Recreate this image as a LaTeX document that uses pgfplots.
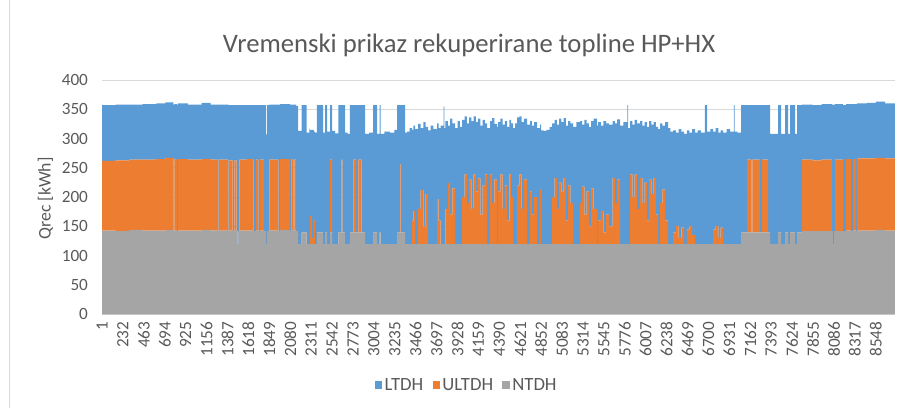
\documentclass[border=0pt]{standalone}
\usepackage{fontspec}
\setmainfont{Carlito}
\usepackage{pgfplots}
\usepackage{pgfplotstable}
\pgfplotsset{compat=1.18}
\definecolor{ltdh}{HTML}{5B9BD5}
\definecolor{ultdh}{HTML}{ED7D31}
\definecolor{ntdh}{HTML}{A5A5A5}
\definecolor{txt}{HTML}{595959}
\definecolor{gridc}{HTML}{D9D9D9}

\pgfplotstableread{
h g o b
1 143 119 95
150 142 121 95
300 144 120 94
450 143 121 95
600 143 122 95
700 144 123 95
790 142 0 216
800 143 121 95
828 142 0 216
838 143 122 95
950 143 121 94
1100 144 121 96
1200 143 121 94
1280 142 0 216
1290 143 121 94
1392 142 0 216
1400 143 120 94
1444 142 0 215
1462 143 120 94
1488 142 0 215
1500 120 0 237
1510 142 0 215
1517 143 121 93
1600 143 122 92
1672 142 0 215
1702 143 121 93
1727 142 0 215
1746 143 121 93
1790 142 0 215
1812 120 0 187
1823 142 0 215
1849 143 121 94
1948 142 0 216
1967 144 121 94
2078 142 0 216
2096 144 120 94
2114 142 0 216
2125 143 121 94
2144 142 0 214
2166 120 0 193
2207 140 0 217
2262 120 0 190
2290 120 0 197
2298 120 48 147
2320 120 10 185
2340 120 40 152
2354 120 0 190
2373 140 0 217
2442 120 0 190
2464 140 0 217
2486 120 0 192
2520 140 124 93
2542 120 0 193
2575 120 0 189
2611 140 0 217
2645 140 124 93
2655 140 0 217
2685 120 0 190
2715 120 0 188
2740 140 0 217
2777 140 124 93
2807 140 0 217
2832 140 124 93
2869 140 0 217
2906 120 0 188
2950 120 0 190
2995 140 0 217
3039 120 0 188
3068 140 0 217
3078 120 0 188
3120 120 0 192
3180 120 0 190
3230 120 0 195
3260 140 0 217
3296 140 116 101
3304 140 0 217
3348 120 0 190
3370 120 0 192
3400 120 0 198
3426 120 40 155
3440 120 56 146
3460 120 0 196
3492 120 60 145
3520 120 92 106
3550 120 30 178
3575 120 85 115
3602 120 0 194
3630 120 0 202
3660 120 0 196
3702 120 77 129
3720 120 40 158
3740 120 0 202
3775 120 0 235
3783 120 0 198
3795 120 60 150
3820 120 104 98
3845 120 50 164
3870 120 95 111
3900 120 0 198
3930 120 0 210
3955 120 0 200
3980 120 80 132
4005 120 119 99
4030 120 70 136
4055 120 110 106
4080 120 60 150
4105 120 119 99
4130 120 90 118
4155 120 112 102
4180 120 50 152
4205 120 100 112
4230 120 119 87
4254 120 0 198
4288 120 119 91
4310 120 70 145
4335 120 110 95
4365 120 0 200
4376 120 90 118
4400 120 119 95
4425 120 60 144
4450 120 100 110
4475 120 40 160
4500 120 119 93
4520 120 80 126
4542 120 0 198
4565 120 0 206
4586 120 100 116
4610 120 119 99
4635 120 60 148
4660 120 110 104
4696 120 0 204
4729 120 90 120
4750 120 50 152
4775 120 80 128
4807 120 0 198
4840 120 93 111
4850 120 0 194
4880 120 0 193
4910 120 0 195
4945 120 0 200
4972 120 80 126
5000 120 113 99
5025 120 60 144
5050 120 105 109
5075 120 90 118
5100 120 113 102
5125 120 40 162
5150 120 100 110
5175 120 70 136
5204 120 0 200
5240 120 0 208
5282 120 70 140
5305 120 98 106
5330 120 50 162
5355 120 90 116
5380 120 30 170
5405 120 95 115
5430 120 60 154
5470 120 0 202
5481 120 40 168
5510 120 56 146
5540 120 20 190
5570 120 50 156
5600 120 30 174
5640 120 113 97
5665 120 70 136
5690 120 110 103
5724 120 0 202
5760 120 0 208
5805 120 0 237
5813 120 0 198
5835 120 119 91
5860 120 80 124
5885 120 119 93
5910 120 60 146
5945 120 113 97
5970 120 70 132
5995 120 105 103
6020 120 40 160
6045 120 110 100
6070 120 85 119
6095 120 113 95
6120 120 50 150
6144 120 0 196
6166 120 70 136
6190 120 93 109
6220 120 40 168
6254 120 0 198
6280 120 0 192
6310 120 20 174
6340 120 31 159
6370 120 10 186
6400 120 28 164
6430 120 0 188
6460 120 25 169
6490 120 31 159
6520 120 15 181
6553 120 0 190
6580 120 0 194
6615 120 0 190
6660 120 0 237
6685 120 0 192
6720 120 0 196
6752 120 25 167
6780 120 31 167
6810 120 10 180
6835 120 28 166
6862 120 0 190
6900 120 0 196
6940 120 0 192
6980 120 0 237
6990 120 0 192
7020 120 0 190
7061 140 0 217
7127 140 124 93
7175 140 0 217
7185 140 124 93
7268 140 0 217
7293 140 124 93
7359 140 0 217
7382 120 0 188
7470 140 0 217
7503 120 0 188
7547 140 0 217
7580 120 0 188
7602 140 0 217
7657 120 0 188
7680 140 0 217
7732 142 122 94
7850 142 121 94
7950 142 122 95
8063 142 0 216
8075 120 0 238
8085 142 0 216
8100 142 122 95
8188 142 0 215
8221 143 122 94
8273 142 0 217
8295 143 122 94
8332 142 0 217
8343 143 123 94
8450 143 123 95
8550 144 123 96
8650 143 123 94
8760 143 123 93
}\qrec

\begin{document}
\begin{tikzpicture}[x=1pt,y=1pt]
\path[use as bounding box] (0,0) rectangle (675.75,306);
\draw[gridc, line width=0.75pt] (7,0) -- (7,306);
\begin{axis}[
  at={(76.5pt,70.275pt)}, anchor=south west,
  scale only axis, width=594.75pt, height=175.725pt,
  xmin=0.5, xmax=8760.5, ymin=0, ymax=400,
  stack plots=y,
  axis x line*=bottom, axis y line*=left,
  x axis line style={draw=gridc, line width=0.75pt, -},
  y axis line style={draw=none},
  ytick={0,50,...,400}, xtick={1,232,...,8548},
  major tick length=0pt,
  ymajorgrids, grid style={draw=gridc, line width=0.75pt},
  tick label style={font=\fontsize{12.9}{14}\selectfont, text=txt},
  xticklabel style={rotate=90, anchor=east},
  xticklabel shift=2pt, yticklabel shift=7pt,
  /pgf/number format/assume math mode=true,
  /pgf/number format/set thousands separator={},
  legend style={at={(0.4603,-0.3018)}, anchor=center, draw=none, fill=none,
    font=\fontsize{14}{15}\selectfont, text=txt,
    nodes={inner xsep=2pt}},
  legend columns=3, reverse legend, legend cell align=left,
  legend image code/.code={\fill[#1] (0pt,-2.7pt) rectangle (5.4pt,2.7pt);},
]
\addplot[draw=none, fill=ntdh, const plot] table[x=h, y=g]{\qrec} \closedcycle;
\addplot[draw=none, fill=ultdh, const plot] table[x=h, y=o]{\qrec} \closedcycle;
\addplot[draw=none, fill=ltdh, const plot] table[x=h, y=b]{\qrec} \closedcycle;
\legend{NTDH, ULTDH\rule{5pt}{0pt}, LTDH\rule{5pt}{0pt}}
\end{axis}
\node[anchor=base, text=txt, font=\fontsize{20}{22}\selectfont] at (351.75,266.25) {Vremenski prikaz rekuperirane topline HP+HX};
\node[rotate=90, text=txt, font=\fontsize{13.3}{14}\selectfont] at (34.1,157.1) {Qrec [kWh]};
\end{tikzpicture}
\end{document}
